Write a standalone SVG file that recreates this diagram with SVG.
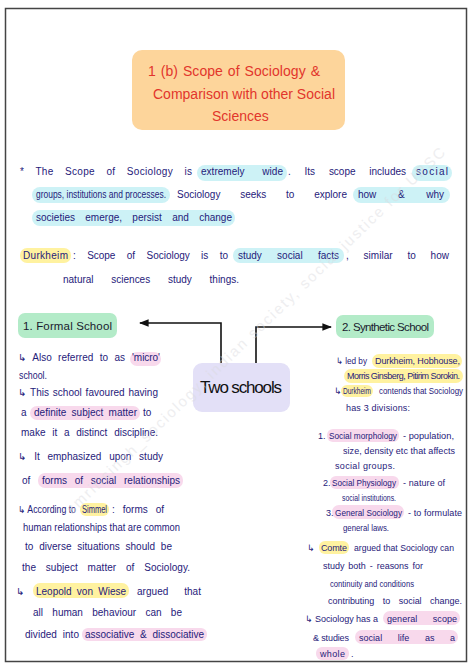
<svg xmlns="http://www.w3.org/2000/svg" width="474" height="669" viewBox="0 0 474 669">
<style>
text{font-family:"Liberation Sans","DejaVu Sans",sans-serif}
.t{font-size:10px;fill:#1f217a}
.s{font-size:9px;fill:#1f217a}
.ti{font-size:14px;fill:#e2352c}
.big{font-size:17px;fill:#111}
.hd{font-size:11.5px;fill:#1a1a2e}
.cy{fill:#cdf2f6}
.pk{fill:#f8d9ec}
.yl{fill:#fff2a0}
.ln{fill:none;stroke:#111;stroke-width:1.6}
.wm{font-size:15px;fill:#dadade;opacity:0.45}
</style>
<defs>
<marker id="ah" viewBox="0 0 10 10" refX="9" refY="5" markerWidth="6" markerHeight="6" orient="auto">
<path d="M0,1 L10,5 L0,9 Z" fill="#111"/>
</marker>
</defs>
<rect x="0" y="0" width="474" height="669" fill="#fff"/>
<rect x="5.5" y="8.5" width="461" height="653" fill="#fff" stroke="#444" stroke-width="1.5"/>

<g id="title">
<rect x="132" y="50" width="213" height="80" rx="10" fill="#fdd59b"/>
<text class="ti" x="148" y="76" word-spacing="1" textLength="172" lengthAdjust="spacing">1 (b) Scope of Sociology &amp;</text>
<text class="ti" x="153" y="99" textLength="182" lengthAdjust="spacing">Comparison with other Social</text>
<text class="ti" x="212" y="121">Sciences</text>
</g>

<g id="intro">
<rect class="cy" x="197" y="165" width="90" height="16" rx="8"/>
<rect class="cy" x="412" y="165" width="40" height="16" rx="8"/>
<rect class="cy" x="32" y="187" width="138" height="16" rx="8"/>
<rect class="cy" x="353" y="187" width="97" height="16" rx="8"/>
<rect class="cy" x="32" y="210" width="203" height="16" rx="8"/>
<text class="t" x="20" y="175" word-spacing="8.3" textLength="172" lengthAdjust="spacing">* The Scope of Sociology is</text>
<text class="t" x="201" y="175" word-spacing="15" textLength="82" lengthAdjust="spacing">extremely wide</text>
<text class="t" x="288" y="175" word-spacing="11" textLength="118" lengthAdjust="spacing">. Its scope includes</text>
<text class="t" x="416" y="175" textLength="32" lengthAdjust="spacing">social</text>
<text class="t" x="36" y="198" textLength="130" lengthAdjust="spacingAndGlyphs">groups, institutions and processes.</text>
<text class="t" x="177" y="198" word-spacing="17" textLength="170" lengthAdjust="spacing">Sociology seeks to explore</text>
<text class="t" x="358" y="198" word-spacing="19" textLength="86" lengthAdjust="spacing">how &amp; why</text>
<text class="t" x="36" y="221" word-spacing="7.5" textLength="196" lengthAdjust="spacing">societies emerge, persist and change</text>
</g>

<g id="durkheim">
<rect class="yl" x="20" y="248" width="51" height="15" rx="7"/>
<rect class="cy" x="233" y="248" width="111" height="15" rx="7"/>
<text class="t" x="23" y="259" textLength="45" lengthAdjust="spacing">Durkheim</text>
<text class="t" x="73" y="259" word-spacing="8.6" textLength="155" lengthAdjust="spacing">: Scope of Sociology is to</text>
<text class="t" x="238" y="259" word-spacing="12.5" textLength="101" lengthAdjust="spacing">study social facts</text>
<text class="t" x="346" y="259" word-spacing="12" textLength="103" lengthAdjust="spacing">, similar to how</text>
<text class="t" x="63" y="283" word-spacing="15" textLength="176" lengthAdjust="spacing">natural sciences study things.</text>
</g>

<g id="connectors">
<path class="ln" d="M221,363 V323 H140" marker-end="url(#ah)"/>
<path class="ln" d="M256,363 V327 H331" marker-end="url(#ah)"/>
</g>

<g id="formal-school">
<rect x="18" y="313" width="99" height="25" rx="7" fill="#b3ebc8"/>
<text class="hd" x="23" y="330" textLength="89" lengthAdjust="spacing">1. Formal School</text>
</g>

<g id="synthetic-school">
<rect x="336" y="315" width="98" height="23" rx="7" fill="#b3ebc8"/>
<text class="hd" x="342" y="331" textLength="87" lengthAdjust="spacing">2. Synthetic School</text>
</g>

<g id="two-schools">
<rect x="193" y="363" width="97" height="49" rx="9" fill="#e3e0f7"/>
<text class="big" x="200" y="393" textLength="82" lengthAdjust="spacing">Two schools</text>
</g>

<g id="formal-notes">
<rect class="pk" x="130" y="352" width="31" height="14" rx="7"/>
<rect class="pk" x="30" y="406" width="110" height="14" rx="7"/>
<rect class="pk" x="38" y="473" width="145" height="15" rx="7"/>
<rect class="yl" x="80" y="503" width="29" height="13" rx="6"/>
<rect class="yl" x="33" y="583" width="96" height="15" rx="7"/>
<rect class="pk" x="82" y="628" width="125" height="13" rx="6"/>
<text class="t" x="18" y="361" word-spacing="3.5" textLength="107" lengthAdjust="spacing">↳ Also referred to as</text>
<text class="t" x="132" y="361" textLength="28" lengthAdjust="spacing">'micro'</text>
<text class="t" x="19" y="379" textLength="28" lengthAdjust="spacingAndGlyphs">school.</text>
<text class="t" x="18" y="396" word-spacing="1" textLength="140" lengthAdjust="spacing">↳ This school favoured having</text>
<text class="t" x="21" y="416">a</text>
<text class="t" x="34" y="416" word-spacing="2.5" textLength="103" lengthAdjust="spacing">definite subject matter</text>
<text class="t" x="143" y="416">to</text>
<text class="t" x="21" y="436" word-spacing="4" textLength="137" lengthAdjust="spacing">make it a distinct discipline.</text>
<text class="t" x="18" y="460" word-spacing="5" textLength="145" lengthAdjust="spacing">↳ It emphasized upon study</text>
<text class="t" x="22" y="484">of</text>
<text class="t" x="42" y="484" word-spacing="5" textLength="138" lengthAdjust="spacing">forms of social relationships</text>
<text class="t" x="18" y="513" textLength="58" lengthAdjust="spacingAndGlyphs">↳ According to</text>
<text class="t" x="82" y="513" textLength="25" lengthAdjust="spacingAndGlyphs">Simmel</text>
<text class="t" x="112" y="513" word-spacing="5" textLength="52" lengthAdjust="spacing">: forms of</text>
<text class="t" x="23" y="531" textLength="157" lengthAdjust="spacingAndGlyphs">human relationships that are common</text>
<text class="t" x="25" y="550" word-spacing="3" textLength="147" lengthAdjust="spacing">to diverse situations should be</text>
<text class="t" x="22" y="571" word-spacing="7" textLength="168" lengthAdjust="spacing">the subject matter of Sociology.</text>
<text class="t" x="16" y="595">↳</text>
<text class="t" x="36" y="595" word-spacing="2.5" textLength="90" lengthAdjust="spacing">Leopold von Wiese</text>
<text class="t" x="137" y="595" word-spacing="13" textLength="64" lengthAdjust="spacing">argued that</text>
<text class="t" x="33" y="616" word-spacing="6.5" textLength="149" lengthAdjust="spacing">all human behaviour can be</text>
<text class="t" x="25" y="638" word-spacing="3" textLength="54" lengthAdjust="spacing">divided into</text>
<text class="t" x="85" y="638" word-spacing="3" textLength="119" lengthAdjust="spacing">associative &amp; dissociative</text>
</g>

<g id="synthetic-notes">
<rect class="yl" x="372" y="354" width="90" height="14" rx="7"/>
<rect class="yl" x="344" y="369" width="119" height="14" rx="7"/>
<rect class="yl" x="341" y="385" width="32" height="12" rx="6"/>
<rect class="pk" x="327" y="429" width="72" height="13" rx="6"/>
<rect class="pk" x="330" y="476" width="69" height="13" rx="6"/>
<rect class="pk" x="332" y="505" width="72" height="14" rx="7"/>
<rect class="yl" x="319" y="541" width="30" height="13" rx="6"/>
<rect class="pk" x="383" y="611" width="77" height="14" rx="7"/>
<rect class="pk" x="355" y="630" width="103" height="14" rx="7"/>
<rect class="pk" x="316" y="647" width="33" height="13" rx="6"/>
<text class="s" x="336" y="364" textLength="31" lengthAdjust="spacingAndGlyphs">↳ led by</text>
<text class="s" x="375" y="364" textLength="85" lengthAdjust="spacing">Durkheim, Hobhouse,</text>
<text class="s" x="347" y="379" font-size="8" textLength="113" lengthAdjust="spacing">Morris Ginsberg, Pitirim Sorokin.</text>
<text class="s" x="334" y="394">↳</text>
<text class="s" x="343" y="394" textLength="28" lengthAdjust="spacingAndGlyphs">Durkheim</text>
<text class="s" x="379" y="394" textLength="84" lengthAdjust="spacingAndGlyphs">contends that Sociology</text>
<text class="s" x="346" y="411" textLength="64" lengthAdjust="spacing">has 3 divisions:</text>
<text class="s" x="318" y="439">1.</text>
<text class="s" x="329" y="439" textLength="68" lengthAdjust="spacingAndGlyphs">Social morphology</text>
<text class="s" x="403" y="439" textLength="51" lengthAdjust="spacingAndGlyphs">- population,</text>
<text class="s" x="343" y="454" textLength="112" lengthAdjust="spacing">size, density etc that affects</text>
<text class="s" x="335" y="469" textLength="60" lengthAdjust="spacing">social groups.</text>
<text class="s" x="323" y="486">2.</text>
<text class="s" x="332" y="486" textLength="64" lengthAdjust="spacingAndGlyphs">Social Physiology</text>
<text class="s" x="403" y="486" textLength="42" lengthAdjust="spacing">- nature of</text>
<text class="s" x="342" y="501" textLength="54" lengthAdjust="spacingAndGlyphs">social institutions.</text>
<text class="s" x="326" y="516">3.</text>
<text class="s" x="335" y="516" textLength="67" lengthAdjust="spacingAndGlyphs">General Sociology</text>
<text class="s" x="408" y="516" textLength="54" lengthAdjust="spacing">- to formulate</text>
<text class="s" x="343" y="531" textLength="46" lengthAdjust="spacingAndGlyphs">general laws.</text>
<text class="s" x="307" y="551">↳</text>
<text class="s" x="321" y="551" textLength="26" lengthAdjust="spacing">Comte</text>
<text class="s" x="354" y="551" textLength="100" lengthAdjust="spacingAndGlyphs">argued that Sociology can</text>
<text class="s" x="323" y="569" word-spacing="1.4" textLength="100" lengthAdjust="spacing">study both - reasons for</text>
<text class="s" x="330" y="587" textLength="84" lengthAdjust="spacingAndGlyphs">continuity and conditions</text>
<text class="s" x="328" y="604" word-spacing="6" textLength="134" lengthAdjust="spacing">contributing to social change.</text>
<text class="s" x="305" y="622" textLength="73" lengthAdjust="spacing">↳ Sociology has a</text>
<text class="s" x="387" y="622" word-spacing="13" textLength="70" lengthAdjust="spacing">general scope</text>
<text class="s" x="313" y="641" textLength="36" lengthAdjust="spacing">&amp; studies</text>
<text class="s" x="359" y="641" word-spacing="13" textLength="96" lengthAdjust="spacing">social life as a</text>
<text class="s" x="320" y="657" textLength="25" lengthAdjust="spacing">whole</text>
<text class="s" x="351" y="657">.</text>
</g>

<text class="wm" transform="translate(72,515) rotate(-44)" textLength="520" lengthAdjust="spacing">smritisingh_sociology, indian society, social justice for UPSC</text>
</svg>
